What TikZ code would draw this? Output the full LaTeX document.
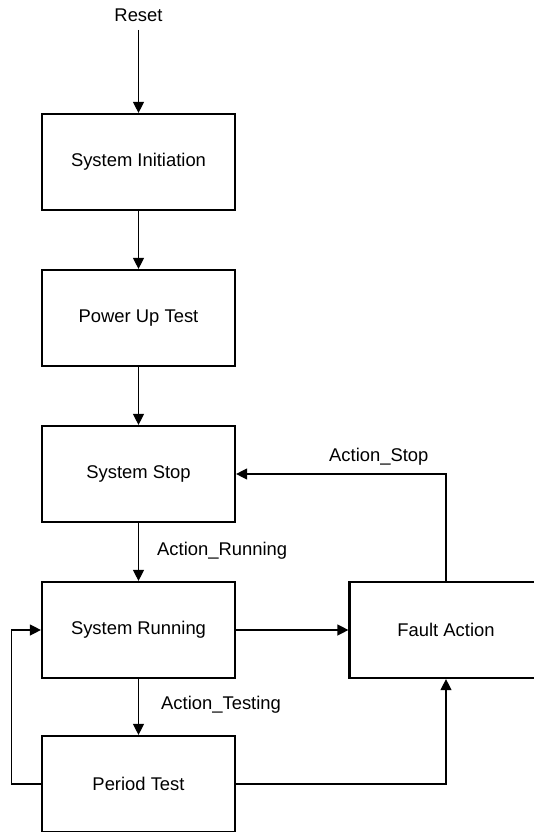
\documentclass[tikz,border=0pt]{standalone}
\usepackage{fontspec}
\setmainfont{Liberation Sans}
\usetikzlibrary{arrows.meta,positioning}
\begin{document}
\begin{tikzpicture}[x=1pt,y=-1pt,
  statebox/.style={draw,line width=2.2pt,rectangle,minimum width=193pt,minimum height=96pt,inner sep=0pt,font=\fontsize{18.4}{22}\selectfont},
  conn/.style={line width=1.3pt,-{Triangle[length=11pt,width=11pt]}},
  lbl/.style={anchor=west,inner sep=0pt,font=\fontsize{18.4}{22}\selectfont}]
\useasboundingbox (0,0) rectangle (533,832);
\node[inner sep=0pt,font=\fontsize{18.4}{22}\selectfont] (reset) at (138.5,15) {Reset};
\coordinate (rs) at (138.5,30);
\node[statebox] (init) at (138.5,162) {System Initiation};
\node[statebox] (pu) at (138.5,318) {Power Up Test};
\node[statebox] (stop) at (138.5,474) {System Stop};
\node[statebox] (run) at (138.5,630) {System Running};
\node[statebox] (pt) at (138.5,784) {Period Test};
\node[statebox] (fault) at (446,630) {Fault Action};
\node[lbl] (lr) at (157,551) {Action\_Running};
\node[lbl] (lt) at (161,705) {Action\_Testing};
\node[lbl] (ls) at (329,457) {Action\_Stop};
\draw[conn] (rs) -- (init.north);
\draw[conn] (init.south) -- (pu.north);
\draw[conn] (pu.south) -- (stop.north);
\draw[conn] (stop.south) -- (run.north);
\draw[conn] (run.south) -- (pt.north);
\draw[conn] (run.east) -- (fault.west);
\draw[conn] (fault.north) |- (stop.east);
\draw[conn] (pt.east) -| (fault.south);
\draw[conn] (pt.west) -- ++(-29.5,0) |- (run.west);
\end{tikzpicture}
\end{document}
